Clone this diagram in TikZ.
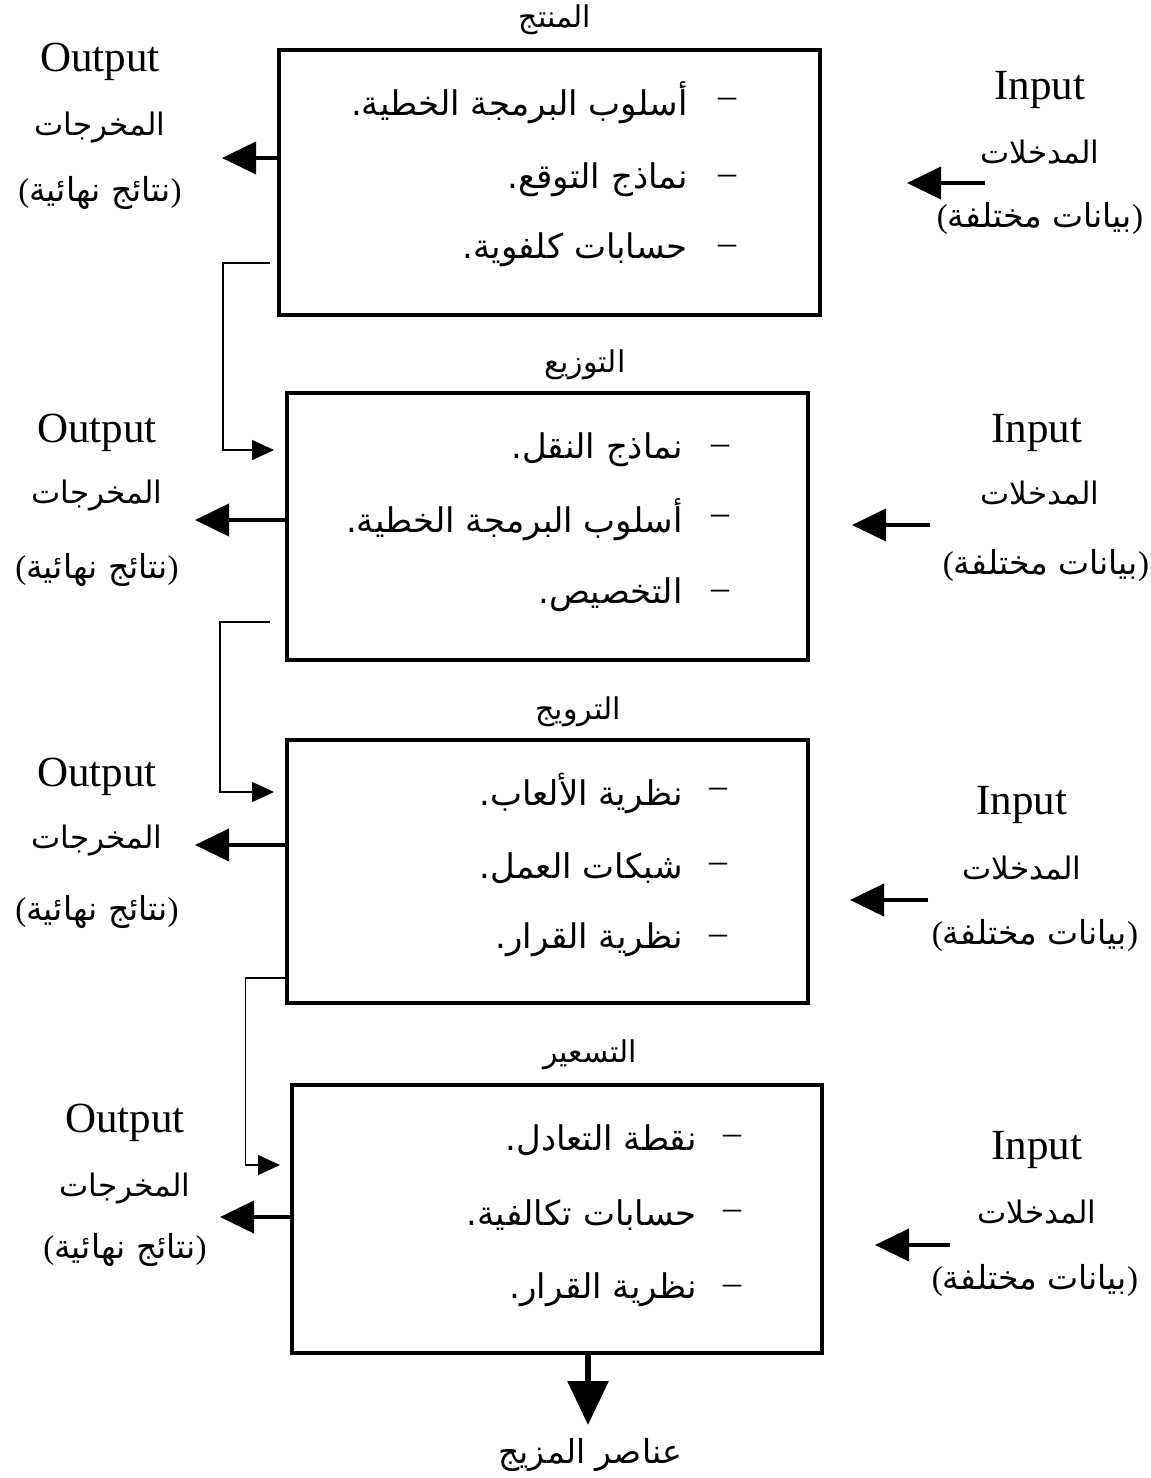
\documentclass[tikz,border=0pt]{standalone}
\usepackage{fontspec}
\setmainfont{Liberation Serif}
\newfontfamily\arabicfont[Script=Arabic]{DejaVu Sans}
\TeXXeTstate=1
\usetikzlibrary{arrows.meta,calc}
\newcommand\AR[1]{{\arabicfont\beginR #1\endR}}
\newcommand\PAR[1]{{\rmfamily(}\AR{#1}{\rmfamily)}}
\begin{document}
\begin{tikzpicture}[x=0.5pt,y=-0.5pt,
  box/.style={draw, line width=2.3pt, inner sep=0pt},
  ttl/.style={font=\fontsize{15}{16}\selectfont, inner sep=0pt},
  item/.style={anchor=east, font=\fontsize{17}{19}\selectfont, inner sep=0pt},
  dashmark/.style={font=\fontsize{18}{20}\selectfont, inner sep=0pt},
  lat/.style={font=\fontsize{21.5}{24}\selectfont, inner sep=0pt},
  lab/.style={font=\fontsize{15.5}{17}\selectfont, inner sep=0pt},
  labp/.style={font=\fontsize{16.5}{18}\selectfont, inner sep=0pt},
  fat/.style={line width=2pt, -{Triangle[length=17pt,width=16pt]}},
  conn/.style={line width=0.7pt, -{Triangle[length=11pt,width=10pt]}}
]
\useasboundingbox (0,0) rectangle (1151,1478);

% boxes
\node[box, minimum width=270.5pt, minimum height=132.5pt] (b1) at (549.5,182.5) {};
\node[box, minimum width=260.5pt, minimum height=133.5pt] (b2) at (547.5,526.5) {};
\node[box, minimum width=260.5pt, minimum height=131.5pt] (b3) at (547.5,871.5) {};
\node[box, minimum width=265pt, minimum height=134pt] (b4) at (557,1219) {};

% titles
\node[ttl] (t1) at (555,20) {\AR{المنتج}};
\node[ttl] (t2) at (585,365) {\AR{التوزيع}};
\node[ttl] (t3) at (578,712) {\AR{الترويج}};
\node[ttl] (t4) at (590,1055) {\AR{التسعير}};

% items box 1
\node[item] (i11) at (688,103) {\AR{أسلوب البرمجة الخطية.}};
\node[item] (i12) at (688,180) {\AR{نماذج التوقع.}};
\node[item] (i13) at (688,250) {\AR{حسابات كلفوية.}};
\node[dashmark] (d11) at (727,103) {–};
\node[dashmark] (d12) at (727,180) {–};
\node[dashmark] (d13) at (727,250) {–};
% items box 2
\node[item] (i21) at (683,450) {\AR{نماذج النقل.}};
\node[item] (i22) at (683,520) {\AR{أسلوب البرمجة الخطية.}};
\node[item] (i23) at (683,595) {\AR{التخصيص.}};
\node[dashmark] (d21) at (720,450) {–};
\node[dashmark] (d22) at (720,520) {–};
\node[dashmark] (d23) at (720,595) {–};
% items box 3
\node[item] (i31) at (683,793) {\AR{نظرية الألعاب.}};
\node[item] (i32) at (683,868) {\AR{شبكات العمل.}};
\node[item] (i33) at (683,940) {\AR{نظرية القرار.}};
\node[dashmark] (d31) at (718,793) {–};
\node[dashmark] (d32) at (718,868) {–};
\node[dashmark] (d33) at (718,940) {–};
% items box 4
\node[item] (i41) at (697,1140) {\AR{نقطة التعادل.}};
\node[item] (i42) at (697,1215) {\AR{حسابات تكالفية.}};
\node[item] (i43) at (697,1290) {\AR{نظرية القرار.}};
\node[dashmark] (d41) at (732,1140) {–};
\node[dashmark] (d42) at (732,1215) {–};
\node[dashmark] (d43) at (732,1290) {–};

% outputs
\node[lat] (ol1) at (100,62) {Output};
\node[lab] (om1) at (100,128) {\AR{المخرجات}};
\node[labp] (on1) at (100,193) {\PAR{نتائج نهائية}};
\node[lat] (ol2) at (97,433) {Output};
\node[lab] (om2) at (97,495) {\AR{المخرجات}};
\node[labp] (on2) at (97,570) {\PAR{نتائج نهائية}};
\node[lat] (ol3) at (97,777) {Output};
\node[lab] (om3) at (97,840) {\AR{المخرجات}};
\node[labp] (on3) at (97,912) {\PAR{نتائج نهائية}};
\node[lat] (ol4) at (125,1123) {Output};
\node[lab] (om4) at (125,1188) {\AR{المخرجات}};
\node[labp] (on4) at (125,1250) {\PAR{نتائج نهائية}};

% inputs
\node[lat] (il1) at (1040,90) {Input};
\node[lab] (im1) at (1040,152) {\AR{المدخلات}};
\node[labp] (in1) at (1040,218) {\PAR{بيانات مختلفة}};
\node[lat] (il2) at (1037,433) {Input};
\node[lab] (im2) at (1040,493) {\AR{المدخلات}};
\node[labp] (in2) at (1046,565) {\PAR{بيانات مختلفة}};
\node[lat] (il3) at (1022,805) {Input};
\node[lab] (im3) at (1022,868) {\AR{المدخلات}};
\node[labp] (in3) at (1035,935) {\PAR{بيانات مختلفة}};
\node[lat] (il4) at (1037,1150) {Input};
\node[lab] (im4) at (1037,1212) {\AR{المدخلات}};
\node[labp] (in4) at (1035,1280) {\PAR{بيانات مختلفة}};

\node[labp] (mix) at (590,1455) {\AR{عناصر المزيج}};

% output arrow tips
\coordinate (o1) at (222,158);
\coordinate (o2) at (195,520);
\coordinate (o3) at (195,845);
\coordinate (o4) at (220,1217);
\draw[fat] (b1.west |- o1) -- (o1);
\draw[fat] (b2.west |- o2) -- (o2);
\draw[fat] (b3.west |- o3) -- (o3);
\draw[fat] (b4.west |- o4) -- (o4);

% input arrows
\coordinate (p1s) at (985,183); \coordinate (p1e) at (907,183);
\coordinate (p2s) at (930,525); \coordinate (p2e) at (852,525);
\coordinate (p3s) at (928,900); \coordinate (p3e) at (850,900);
\coordinate (p4s) at (950,1245); \coordinate (p4e) at (875,1245);
\draw[fat] (p1s) -- (p1e);
\draw[fat] (p2s) -- (p2e);
\draw[fat] (p3s) -- (p3e);
\draw[fat] (p4s) -- (p4e);

% connectors between boxes
\coordinate (k1s) at (270,263); \coordinate (k1e) at (274,450);
\coordinate (k2s) at (270,622); \coordinate (k2e) at (274,792);
\coordinate (k3s) at (287,978); \coordinate (k3e) at (280,1165);
\draw[conn] (k1s) -- ++(-47,0) |- (k1e);
\draw[conn] (k2s) -- ++(-50,0) |- (k2e);
\draw[conn] (b3.west |- k3s) -- ++(-39,0) |- (k3e);

% final arrow
\coordinate (fin) at (588,1425);
\draw[line width=3pt, -{Triangle[length=22pt,width=20pt]}] (b4.south -| fin) -- (fin);
\end{tikzpicture}
\end{document}
